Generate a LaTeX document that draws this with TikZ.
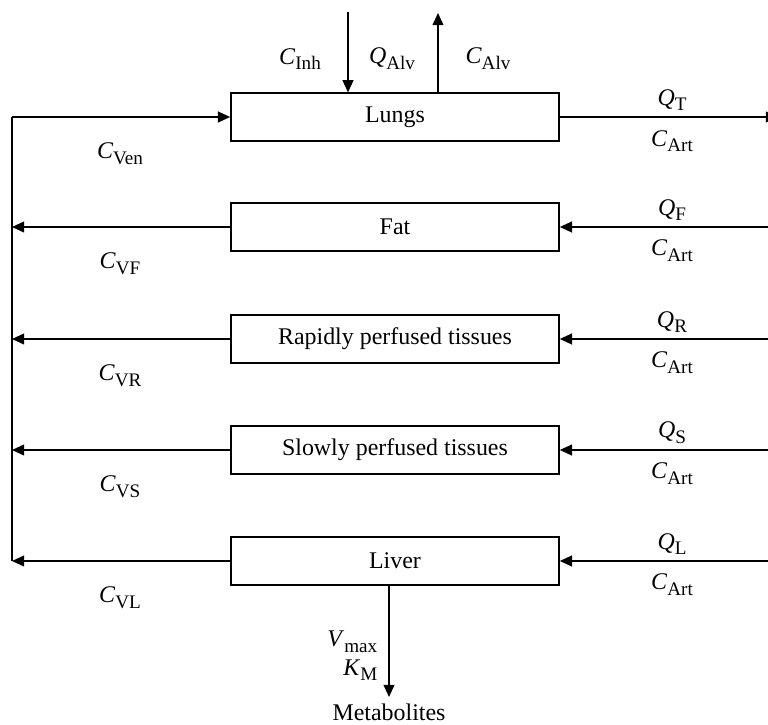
\documentclass[tikz,border=0pt]{standalone}
\usepackage{fontspec}
\setmainfont{Liberation Serif}
\usetikzlibrary{arrows.meta}
\newcommand{\sym}[2]{\textit{#1}\raisebox{-2.6pt}{\fontsize{8.8}{10}\selectfont #2}}
\begin{document}
\begin{tikzpicture}[
    x=0.46pt, y=-0.46pt,
    line width=0.65pt,
    >={Triangle[length=5.6pt,width=5pt]},
    every node/.style={font=\fontsize{11}{13}\selectfont},
    organ/.style={draw, minimum width=151pt, minimum height=22pt, inner sep=0pt},
    lbl/.style={inner sep=0pt}
  ]
  \useasboundingbox (0,0) rectangle (768,725);

  % compartments
  \node[organ] (lungs) at (395,117) {Lungs};
  \node[organ] (fat)   at (395,227) {Fat};
  \node[organ] (rapid) at (395,339) {Rapidly perfused tissues};
  \node[organ] (slow)  at (395,450) {Slowly perfused tissues};
  \node[organ] (liver) at (395,561) {Liver};

  \coordinate (venTop) at (12,117);
  \coordinate (venBot) at (12,561);
  \coordinate (artR)   at (768,0);
  \coordinate (artOut) at (778,117);

  % venous return
  \draw (venTop) -- (venBot);
  \draw[->] (venTop) -- (lungs.west);
  \foreach \o in {fat,rapid,slow,liver} {
    \draw[->] (\o.west) -- (\o.west -| venTop);
    \draw[->] (\o.east -| artR) -- (\o.east);
  }
  \draw[->] (lungs.east) -- (artOut);

  % breathing
  \coordinate (inh) at (348,12);
  \coordinate (alv) at (438,13);
  \draw[->] (inh) -- (inh |- lungs.north);
  \draw[->] (alv |- lungs.north) -- (alv);
  \node[lbl] (cinh) at (300,59) {\sym{C}{Inh}};
  \node[lbl] (qalv) at (392,59) {\sym{Q}{Alv}};
  \node[lbl] (calv) at (488,59) {\sym{C}{Alv}};

  % metabolism
  \coordinate (met) at (389,697);
  \draw[->] (met |- liver.south) -- (met);
  \node[lbl, anchor=east] (vmax) at (378,642) {\sym{V}{max}};
  \node[lbl, anchor=east] (km)   at (378,670) {\sym{K}{M}};
  \node[lbl] (metab) at (389,712) {Metabolites};

  % flow and concentration labels
  \foreach \y/\v/\q in {117/Ven/T, 227/VF/F, 339/VR/R, 450/VS/S, 561/VL/L} {
    \node[lbl] at (120,\y+37) {\sym{C}{\v}};
    \node[lbl] at (672,\y-17) {\sym{Q}{\q}};
    \node[lbl] at (672,\y+24) {\sym{C}{Art}};
  }
\end{tikzpicture}
\end{document}
